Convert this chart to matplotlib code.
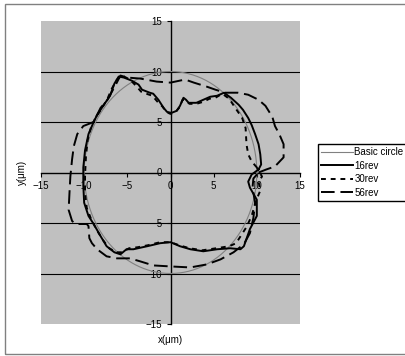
import numpy as np
import matplotlib
matplotlib.use("Agg")
import matplotlib.pyplot as plt
from matplotlib.patches import Rectangle

plt.rcParams['font.family'] = ['Liberation Sans', 'DejaVu Sans']

# basic circle radius (um)
basic_radius = 10

# 16rev profile (x, y in um), counterclockwise from the right
x16 = [10.2, 10.5, 10.4, 10.2, 9.8, 9.4, 9.0, 8.4, 7.9, 7.0, 6.2, 5.4, 4.6, 3.8, 3.0, 2.1, 1.8, 1.5,
       1.1, 0.7, 0.1, -0.4, -0.8, -1.4, -2.0, -2.4, -3.3, -3.7, -4.5, -5.4, -6.0, -6.5, -7.0, -7.8,
       -8.5, -8.9, -9.5, -9.9, -10.1, -10.1, -10.0, -9.5, -8.9, -8.1, -7.4, -6.5, -5.8, -5.1, -4.3,
       -2.7, -1.2, 0.0, 1.1, 2.3, 3.8, 5.4, 6.9, 8.1, 8.5, 9.2, 10.0, 10.0, 9.2, 9.0, 9.4, 10.2]
y16 = [0.3, 0.8, 1.8, 2.8, 3.8, 4.7, 5.4, 6.2, 6.7, 7.4, 7.9, 7.6, 7.5, 7.2, 6.9, 6.9, 7.2, 7.4,
       6.6, 6.1, 5.9, 6.0, 6.4, 7.2, 7.8, 7.9, 8.2, 8.7, 9.1, 9.4, 9.5, 8.8, 7.6, 6.6,
       5.7, 5.0, 3.8, 2.2, 0.5, -1.3, -3.0, -4.3, -5.1, -6.3, -7.3, -7.9, -8.1, -7.6, -7.6,
       -7.3, -7.0, -6.9, -7.3, -7.6, -7.8, -7.6, -7.5, -7.6, -7.3, -5.6, -4.3, -2.7, -1.5, -0.9, -0.2, 0.3]

# 30rev profile
x30 = [10.0, 9.4, 9.0, 8.8, 8.7, 8.3, 7.5, 6.8, 6.0, 5.2, 4.5, 3.8, 3.0, 2.2, 1.8, 1.4, 1.0, 0.6,
       0.0, -0.5, -0.9, -1.5, -2.1, -2.8, -3.4, -3.9, -4.7, -5.6, -6.2, -6.8, -7.3, -8.0, -8.7,
       -9.2, -9.6, -9.8, -9.9, -9.9, -9.7, -9.2, -8.6, -7.9, -7.1, -6.3, -5.6, -4.8, -3.8, -2.6,
       -1.2, 0.0, 1.0, 2.2, 3.7, 5.3, 6.8, 7.6, 8.2, 8.8, 9.4, 9.9, 10.4, 10.2, 10.6, 10.0]
y30 = [0.5, 1.1, 1.8, 2.8, 4.4, 5.4, 6.4, 7.3, 7.8, 7.4, 7.3, 7.0, 6.8, 6.8, 7.1, 7.2, 6.4, 6.0,
       5.8, 6.0, 6.5, 7.0, 7.6, 7.8, 8.0, 8.5, 9.2, 9.6, 9.2, 8.3, 7.3, 6.3, 5.4,
       4.5, 3.2, 1.5, -0.3, -2.0, -3.5, -4.6, -5.6, -6.6, -7.5, -7.9, -7.9, -7.5, -7.4, -7.2,
       -6.9, -6.9, -7.2, -7.5, -7.7, -7.5, -7.3, -7.0, -6.2, -5.4, -4.3, -2.8, -1.8, -0.9, -0.4, 0.5]

# 56rev profile
x56 = [10.2, 11.1, 12.1, 13.1, 13.1, 12.6, 12.1, 11.8, 11.0, 10.2, 9.0, 7.8, 6.3, 5.2, 4.2, 2.7,
       1.7, 1.1, 0.0, -1.6, -3.5, -5.0, -5.8, -6.4, -7.3, -8.1, -8.9, -10.1, -10.8, -11.2, -11.4,
       -11.6, -11.7, -11.8, -11.4, -11.0, -9.7, -9.5, -9.4, -9.1, -8.5, -7.4, -6.2, -4.7, -3.5,
       -2.0, 0.0, 2.3, 4.2, 5.8, 7.3, 8.5, 9.2, 9.6, 9.8, 9.5, 9.6, 10.2]
y56 = [0.0, 0.3, 0.6, 1.5, 2.8, 3.8, 4.6, 5.5, 6.6, 7.2, 7.7, 7.9, 7.9, 8.2, 8.5, 8.9,
       9.2, 9.1, 8.9, 9.0, 9.3, 9.4, 9.6, 8.6, 7.2, 6.4, 5.0, 4.6, 3.8, 2.6, 1.3,
       -0.4, -2.0, -3.7, -4.8, -5.1, -5.1, -5.3, -6.5, -7.0, -7.6, -8.3, -8.5, -8.5, -8.8,
       -9.2, -9.3, -9.4, -9.1, -8.6, -7.9, -7.1, -6.0, -4.5, -3.0, -1.5, -0.6, 0.0]

ticks = [-15, -10, -5, 0, 5, 10, 15]

fig = plt.figure(figsize=(4.05, 3.56), dpi=100)
fig.patch.set_facecolor('white')
# chart frame
fig.patches.append(Rectangle((5 / 405, 2 / 356), 1.0, 350 / 356, transform=fig.transFigure,
                             fill=False, edgecolor='#808080', linewidth=1.0))

ax = fig.add_axes([41 / 405, 32 / 356, 259 / 405, 303 / 356])
ax.set_facecolor('#C0C0C0')

for yv in [-10, -5, 5, 10]:
    ax.axhline(yv, color='black', linewidth=0.8, zorder=1)

theta = np.linspace(0, 2 * np.pi, 361)
ax.plot(basic_radius * np.cos(theta), basic_radius * np.sin(theta), color='#808080',
        linewidth=0.8, label='Basic circle', zorder=3)
ax.plot(x16, y16, color='black', linewidth=1.4, label='16rev', zorder=4)
ax.plot(x30, y30, color='black', linewidth=1.4, linestyle=(0, (2.5, 2.5)), label='30rev', zorder=4)
ax.plot(x56, y56, color='black', linewidth=1.4, linestyle=(0, (7, 3)), label='56rev', zorder=4)

ax.set_xlim(-15, 15)
ax.set_ylim(-15, 15)
ax.set_xticks(ticks)
ax.set_yticks(ticks)
ax.spines['left'].set_position(('data', 0))
ax.spines['bottom'].set_position(('data', 0))
ax.spines['right'].set_visible(False)
ax.spines['top'].set_visible(False)
for s in ['left', 'bottom']:
    ax.spines[s].set_linewidth(1.0)
    ax.spines[s].set_zorder(2)
ax.tick_params(direction='out', length=3, width=0.8, labelsize=7, pad=3)

fig.text(170 / 405, 1 - 340 / 356, 'x(μm)', ha='center', va='center', fontsize=7)
fig.text(22 / 405, 1 - 172 / 356, 'y(μm)', ha='center', va='center', fontsize=7, rotation=90)

leg = fig.legend(loc='upper left', bbox_to_anchor=(318 / 405, 1 - 144 / 356), fontsize=7,
                 frameon=True, fancybox=False, edgecolor='black', framealpha=1,
                 handlelength=3.2, handletextpad=0.2, labelspacing=0.35, borderpad=0.35,
                 borderaxespad=0)
leg.get_frame().set_linewidth(1.0)

fig.savefig('out.png', dpi=100)
